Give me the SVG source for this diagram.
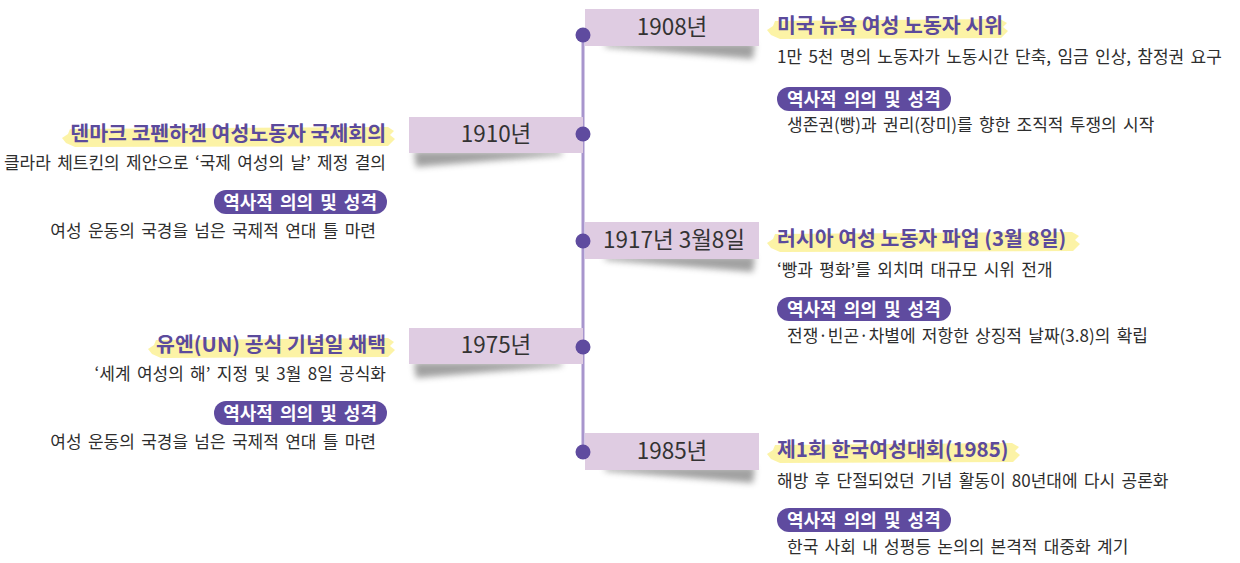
<svg xmlns="http://www.w3.org/2000/svg" width="1240" height="563" viewBox="0 0 1240 563">
<style>
text{font-family:"Noto Sans CJK KR","Noto Sans",sans-serif}
.yr{font-size:22.5px;fill:#333;text-anchor:middle}
.box{fill:#dfcce2}
.sh{fill:#555;opacity:.55;filter:url(#blur)}
.hl{fill:#fcf29c;opacity:.9}
.tt{font-size:20.5px;font-weight:700;fill:#5b4a9c}
.ds{font-size:17px;word-spacing:2.5px;fill:#2e2e2e}
.pill{fill:#5f4b9f}
.pt{font-size:18px;font-weight:700;word-spacing:3px;fill:#fff}
.dt{font-size:17px;word-spacing:2.5px;fill:#2e2e2e}
.end{text-anchor:end}
.line{stroke:#a895cd;stroke-width:3}
.dot{fill:#5f4b9f}
</style>
<defs>
<filter id="blur" x="-20%" y="-100%" width="140%" height="300%"><feGaussianBlur stdDeviation="3"/></filter>
</defs>
<g id="connectors">
<line class="line" x1="583" y1="35" x2="583" y2="452"/>
</g>
<g id="n1908">
<polygon class="sh" points="605,43 755,43 753,59 605,47"/>
<rect class="box" x="585" y="9" width="174" height="37"/>
<text class="yr" x="672" y="35">1908년</text>
<circle class="dot" cx="583" cy="35" r="7.5"/>
<path class="hl" d="M775,21 L1000,19 L1007,23 L1003,27 L1008,31 L1001,38 L780,39 L771,35 L767,30 L773,26 Z"/>
<text class="tt" x="777" y="33">미국 뉴욕 여성 노동자 시위</text>
<text class="ds" x="777" y="63">1만 5천 명의 노동자가 노동시간 단축, 임금 인상, 참정권 요구</text>
<rect class="pill" x="777" y="87" width="174" height="24" rx="12"/>
<text class="pt" x="787" y="105.5">역사적 의의 및 성격</text>
<text class="dt" x="787" y="131">생존권(빵)과 권리(장미)를 향한 조직적 투쟁의 시작</text>
</g>
<g id="n1910">
<polygon class="sh" points="414,151 562,151 562,155 416,167"/>
<rect class="box" x="409" y="117" width="174" height="36"/>
<text class="yr" x="496" y="142">1910년</text>
<circle class="dot" cx="583" cy="134" r="7.5"/>
<path class="hl" d="M70,129 L388,127 L394,131 L390,135 L395,139 L388,146 L75,147 L66,143 L62,138 L68,134 Z"/>
<text class="tt end" x="386" y="141">덴마크 코펜하겐 여성노동자 국제회의</text>
<text class="ds end" x="386" y="169">클라라 체트킨의 제안으로 ‘국제 여성의 날’ 제정 결의</text>
<rect class="pill" x="214" y="190" width="173" height="24" rx="12"/>
<text class="pt end" x="377" y="208.5">역사적 의의 및 성격</text>
<text class="dt end" x="376" y="237">여성 운동의 국경을 넘은 국제적 연대 틀 마련</text>
</g>
<g id="n1917">
<polygon class="sh" points="605,256 755,256 753,272 605,260"/>
<rect class="box" x="585" y="222" width="174" height="37"/>
<text class="yr" x="674" y="248">1917년 3월8일</text>
<circle class="dot" cx="583" cy="241" r="7.5"/>
<path class="hl" d="M775,234 L1072,232 L1079,236 L1075,240 L1080,244 L1073,251 L780,252 L771,248 L767,243 L773,239 Z"/>
<text class="tt" x="777" y="246">러시아 여성 노동자 파업 (3월 8일)</text>
<text class="ds" x="777" y="276">‘빵과 평화’를 외치며 대규모 시위 전개</text>
<rect class="pill" x="777" y="297" width="174" height="24" rx="12"/>
<text class="pt" x="787" y="315.5">역사적 의의 및 성격</text>
<text class="dt" x="787" y="342">전쟁·빈곤·차별에 저항한 상징적 날짜(3.8)의 확립</text>
</g>
<g id="n1975">
<polygon class="sh" points="414,362 562,362 562,366 416,378"/>
<rect class="box" x="409" y="328" width="174" height="36"/>
<text class="yr" x="496" y="353">1975년</text>
<circle class="dot" cx="583" cy="347" r="7.5"/>
<path class="hl" d="M156,340 L388,338 L394,342 L390,346 L395,350 L388,357 L161,358 L152,354 L148,349 L154,345 Z"/>
<text class="tt end" x="386" y="352">유엔(UN) 공식 기념일 채택</text>
<text class="ds end" x="386" y="380">‘세계 여성의 해’ 지정 및 3월 8일 공식화</text>
<rect class="pill" x="214" y="401" width="173" height="24" rx="12"/>
<text class="pt end" x="377" y="419.5">역사적 의의 및 성격</text>
<text class="dt end" x="376" y="448">여성 운동의 국경을 넘은 국제적 연대 틀 마련</text>
</g>
<g id="n1985">
<polygon class="sh" points="605,467 755,467 753,483 605,471"/>
<rect class="box" x="585" y="433" width="174" height="37"/>
<text class="yr" x="672" y="459">1985년</text>
<circle class="dot" cx="583" cy="452" r="7.5"/>
<path class="hl" d="M775,445 L1012,443 L1019,447 L1015,451 L1020,455 L1013,462 L780,463 L771,459 L767,454 L773,450 Z"/>
<text class="tt" x="777" y="457">제1회 한국여성대회(1985)</text>
<text class="ds" x="777" y="487">해방 후 단절되었던 기념 활동이 80년대에 다시 공론화</text>
<rect class="pill" x="777" y="508" width="174" height="24" rx="12"/>
<text class="pt" x="787" y="526.5">역사적 의의 및 성격</text>
<text class="dt" x="787" y="553">한국 사회 내 성평등 논의의 본격적 대중화 계기</text>
</g>
</svg>
